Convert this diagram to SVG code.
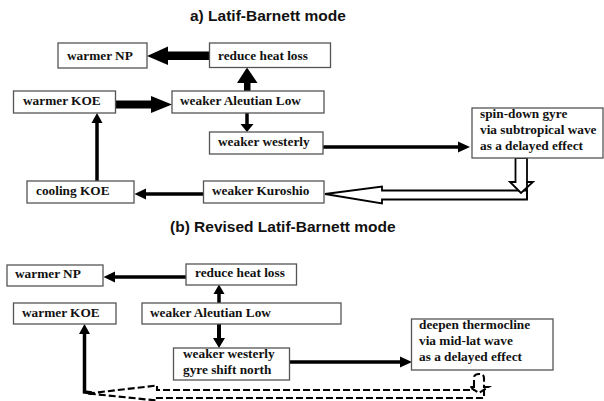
<svg xmlns="http://www.w3.org/2000/svg" width="604" height="401" viewBox="0 0 604 401">
  <style>
    .title { font-family: "Liberation Sans", Arial, sans-serif; font-weight: bold; font-size: 15.5px; fill: #111; }
    .box rect { fill: #fff; stroke: #555; stroke-width: 1.3; }
    .box text { font-family: "Liberation Serif", "Times New Roman", serif; font-weight: bold; font-size: 13.3px; fill: #111; }
    .ln { stroke: #000; fill: none; }
    .hd { fill: #000; stroke: none; }
    .hollow { fill: #fff; stroke: #000; stroke-width: 1.8; stroke-linejoin: miter; }
    .dash { fill: #fff; stroke: #000; stroke-width: 2.1; stroke-dasharray: 7 3; }
  </style>
  <rect width="604" height="401" fill="#fff"/>

  <!-- Panel a -->
  <text class="title" x="190" y="21">a) Latif-Barnett mode</text>

  <g id="connectors-a">
    <!-- reduce heat loss -> warmer NP (thick) -->
    <rect class="hd" x="166" y="51.5" width="44" height="8.5"/>
    <polygon class="hd" points="147,56 168,46.5 168,65"/>
    <!-- warmer KOE -> weaker Aleutian Low (thick) -->
    <rect class="hd" x="115" y="100.5" width="40" height="8"/>
    <polygon class="hd" points="172,104.5 151,96 151,113"/>
    <!-- weaker Aleutian Low -> reduce heat loss (thick, up) -->
    <rect class="hd" x="244" y="80" width="6.5" height="12"/>
    <polygon class="hd" points="247,67.5 237,83 257.5,83"/>
    <!-- weaker Aleutian Low -> weaker westerly -->
    <line class="ln" x1="247" y1="113" x2="247" y2="125" stroke-width="3.5"/>
    <polygon class="hd" points="247,132 240.5,124 253.5,124"/>
    <!-- weaker westerly -> spin-down gyre -->
    <line class="ln" x1="323" y1="147" x2="459" y2="147" stroke-width="3.5"/>
    <polygon class="hd" points="470,147 458,141.5 458,152.5"/>
    <!-- weaker Kuroshio -> cooling KOE -->
    <line class="ln" x1="203" y1="194" x2="144" y2="194" stroke-width="3.5"/>
    <polygon class="hd" points="134.5,194 146,188.5 146,199.5"/>
    <!-- cooling KOE -> warmer KOE -->
    <line class="ln" x1="97" y1="181" x2="97" y2="120" stroke-width="3.5"/>
    <polygon class="hd" points="97,113 91.5,123 102.5,123"/>
    <!-- hollow delayed-effect arrow -->
    <polygon class="hollow" points="325,194 382,186.5 382,190.5 527,190.5 527,199.5 382,199.5 382,203.5"/>
    <polygon class="hollow" points="515.5,158 515.5,182 510,182 521,193 533,182 527,182 527,158"/>
    <line class="ln" x1="527" y1="182" x2="527" y2="200" stroke-width="1.8"/>
  </g>

  <g id="a-warmer-np" class="box">
    <rect x="58" y="43" width="89" height="25"/>
    <text x="67" y="60">warmer NP</text>
  </g>
  <g id="a-reduce-heat-loss" class="box">
    <rect x="209.5" y="43" width="121" height="24.5"/>
    <text x="218" y="60">reduce heat loss</text>
  </g>
  <g id="a-warmer-koe" class="box">
    <rect x="13.5" y="91" width="102" height="22"/>
    <text x="23" y="105">warmer KOE</text>
  </g>
  <g id="a-weaker-aleutian-low" class="box">
    <rect x="172" y="91" width="152" height="22"/>
    <text x="180" y="105">weaker Aleutian Low</text>
  </g>
  <g id="a-weaker-westerly" class="box">
    <rect x="209.5" y="132" width="113.5" height="22"/>
    <text x="218" y="146">weaker westerly</text>
  </g>
  <g id="a-spin-down-gyre" class="box">
    <rect x="472" y="108" width="131" height="50"/>
    <text x="480" y="118">spin-down gyre</text>
    <text x="480" y="134">via subtropical wave</text>
    <text x="480" y="150">as a delayed effect</text>
  </g>
  <g id="a-cooling-koe" class="box">
    <rect x="27" y="181" width="107" height="22"/>
    <text x="36" y="195">cooling KOE</text>
  </g>
  <g id="a-weaker-kuroshio" class="box">
    <rect x="203.5" y="181" width="120.5" height="22"/>
    <text x="212" y="195">weaker Kuroshio</text>
  </g>

  <!-- Panel b -->
  <text class="title" x="170" y="232">(b) Revised Latif-Barnett mode</text>

  <g id="connectors-b">
    <!-- reduce heat loss -> warmer NP -->
    <line class="ln" x1="186" y1="277" x2="112" y2="277" stroke-width="3.5"/>
    <polygon class="hd" points="103.5,277 115,271.5 115,282.5"/>
    <!-- weaker Aleutian Low -> reduce heat loss -->
    <line class="ln" x1="219" y1="303" x2="219" y2="292" stroke-width="3.5"/>
    <polygon class="hd" points="219,284.5 213.5,294 224.5,294"/>
    <!-- weaker Aleutian Low -> weaker westerly -->
    <line class="ln" x1="219" y1="324" x2="219" y2="339" stroke-width="4"/>
    <polygon class="hd" points="219,348 213,338 225,338"/>
    <!-- weaker westerly -> deepen thermocline -->
    <line class="ln" x1="289" y1="362" x2="402" y2="362" stroke-width="3.5"/>
    <polygon class="hd" points="412,362 400,356.5 400,367.5"/>
    <!-- return path to warmer KOE -->
    <polyline class="ln" points="92,393 84.5,392 84.5,332" stroke-width="3.5"/>
    <polygon class="hd" points="84.5,324 79,334 90,334"/>
    <!-- dashed hollow delayed-effect arrow -->
    <polygon class="dash" points="88,393.5 157,385.5 157,390 484,390 484,398 157,398 157,400.5"/>
    <path class="dash" d="M474,387 L474,378 Q474,374 479,374 Q484,374 484,378 L484,387 L488.5,387 L479,393 L469.5,387 Z"/>
  </g>

  <g id="b-warmer-np" class="box">
    <rect x="7" y="265" width="96" height="21"/>
    <text x="15" y="278">warmer NP</text>
  </g>
  <g id="b-reduce-heat-loss" class="box">
    <rect x="186" y="264" width="110.5" height="21"/>
    <text x="195" y="277">reduce heat loss</text>
  </g>
  <g id="b-warmer-koe" class="box">
    <rect x="13.5" y="303" width="102.5" height="21"/>
    <text x="22" y="317">warmer KOE</text>
  </g>
  <g id="b-weaker-aleutian-low" class="box">
    <rect x="142" y="303" width="199" height="21"/>
    <text x="150" y="317">weaker Aleutian Low</text>
  </g>
  <g id="b-weaker-westerly" class="box">
    <rect x="173.5" y="348" width="116" height="32"/>
    <text x="183" y="358">weaker westerly</text>
    <text x="183" y="374">gyre shift north</text>
  </g>
  <g id="b-deepen-thermocline" class="box">
    <rect x="411.5" y="319" width="141.5" height="51"/>
    <text x="419" y="329">deepen thermocline</text>
    <text x="419" y="345">via mid-lat wave</text>
    <text x="419" y="361">as a delayed effect</text>
  </g>
</svg>
